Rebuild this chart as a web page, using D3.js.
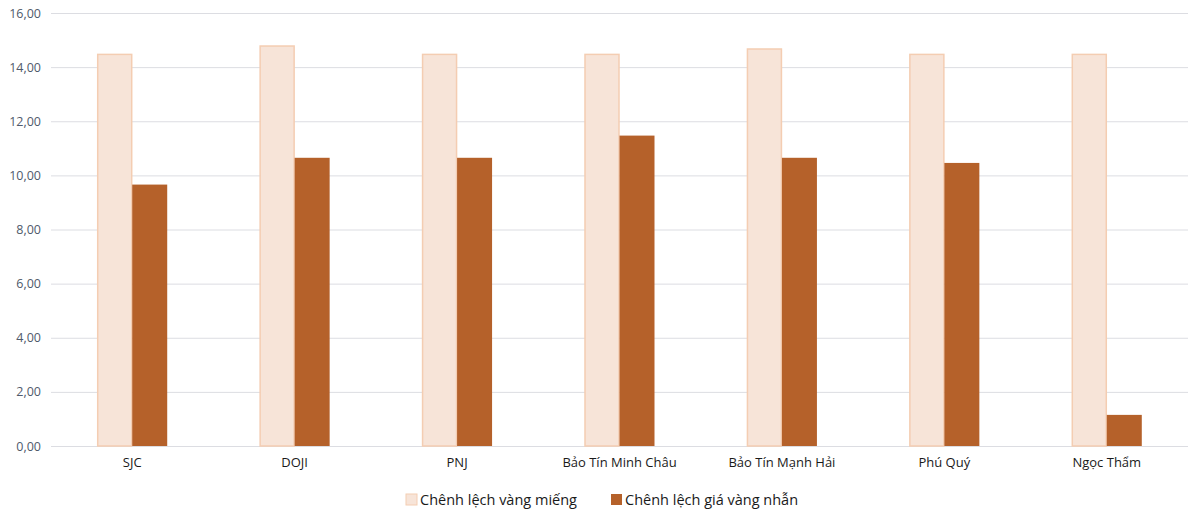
<!DOCTYPE html>
<html>
<head>
<meta charset="utf-8">
<script src="https://cdn.jsdelivr.net/npm/d3@7"></script>
<style>
  body { margin: 0; background: #fff; }
  text { font-family: "Open Sans", "Noto Sans", sans-serif; }
</style>
</head>
<body>
<div id="chart"></div>
<script>
const companies = ["SJC", "DOJI", "PNJ", "Bảo Tín Minh Châu", "Bảo Tín Mạnh Hải", "Phú Quý", "Ngọc Thẩm"];
const barGold = [14.47, 14.78, 14.47, 14.47, 14.67, 14.47, 14.47];
const ringGold = [9.66, 10.65, 10.65, 11.47, 10.65, 10.46, 1.15];
const seriesNames = ["Chênh lệch vàng miếng", "Chênh lệch giá vàng nhẫn"];
const yTicks = [0, 2, 4, 6, 8, 10, 12, 14, 16];

const margin = { top: 13, right: 12, bottom: 74, left: 51 },
      width = 1200 - margin.left - margin.right,
      height = 520 - margin.top - margin.bottom;

const svg = d3.select("#chart")
  .append("svg")
  .attr("width", 1200)
  .attr("height", 520)
  .append("g")
  .attr("transform", `translate(${margin.left},${margin.top})`);

const x0 = d3.scaleBand().domain(companies).range([0, width]).padding(0);
const x1 = d3.scaleBand().domain(seriesNames)
  .range([x0.bandwidth() / 2 - 35, x0.bandwidth() / 2 + 35]).padding(0);
const y = d3.scaleLinear().domain([0, 16]).range([height, 0]);

const fills = ["#f7e4d8", "#b5612a"];
const strokes = ["#f4cdb2", "#b5612a"];

// gridlines + y labels
const yAxis = svg.append("g")
  .call(d3.axisLeft(y).tickValues(yTicks).tickSize(-width)
    .tickFormat(d => d3.format(".2f")(d).replace(".", ",")));
yAxis.select(".domain").remove();
yAxis.selectAll(".tick line").attr("stroke", "#dcdde2").attr("stroke-width", 1);
yAxis.selectAll(".tick text")
  .attr("x", -10)
  .attr("fill", "#505a6b")
  .attr("font-size", "12.5px");

const rows = companies.map((c, i) => ({ name: c, values: [barGold[i], ringGold[i]] }));

const groups = svg.selectAll(".grp")
  .data(rows)
  .enter()
  .append("g")
  .attr("transform", d => `translate(${x0(d.name)},0)`);

groups.selectAll("rect")
  .data(d => d.values.map((v, k) => ({ key: seriesNames[k], k: k, v: v })))
  .enter()
  .append("rect")
  .attr("x", d => x1(d.key) + (d.k === 0 ? 0.5 : 0))
  .attr("y", d => y(d.v))
  .attr("width", d => x1.bandwidth() - (d.k === 0 ? 1 : 0))
  .attr("height", d => height - y(d.v))
  .attr("fill", d => fills[d.k])
  .attr("stroke", d => strokes[d.k])
  .attr("stroke-width", d => d.k === 0 ? 1.5 : 0);

// x labels
const xAxis = svg.append("g")
  .attr("transform", `translate(0,${height})`)
  .call(d3.axisBottom(x0).tickSize(0).tickPadding(12));
xAxis.select(".domain").remove();
xAxis.selectAll(".tick text")
  .attr("fill", "#1a1a1a")
  .attr("font-size", "13px");

// legend
const legend = svg.append("g").attr("transform", `translate(${406 - margin.left},${500 - margin.top})`);
const legendX = [0, 205];
seriesNames.forEach((name, i) => {
  legend.append("rect")
    .attr("x", legendX[i])
    .attr("y", -6)
    .attr("width", 11)
    .attr("height", 11)
    .attr("fill", fills[i])
    .attr("stroke", strokes[i])
    .attr("stroke-width", i === 0 ? 1 : 0);
  legend.append("text")
    .attr("x", legendX[i] + 14)
    .attr("y", 0)
    .attr("dy", "0.35em")
    .attr("font-size", "14.5px")
    .attr("fill", "#1a1a1a")
    .text(name);
});
</script>
</body>
</html>
